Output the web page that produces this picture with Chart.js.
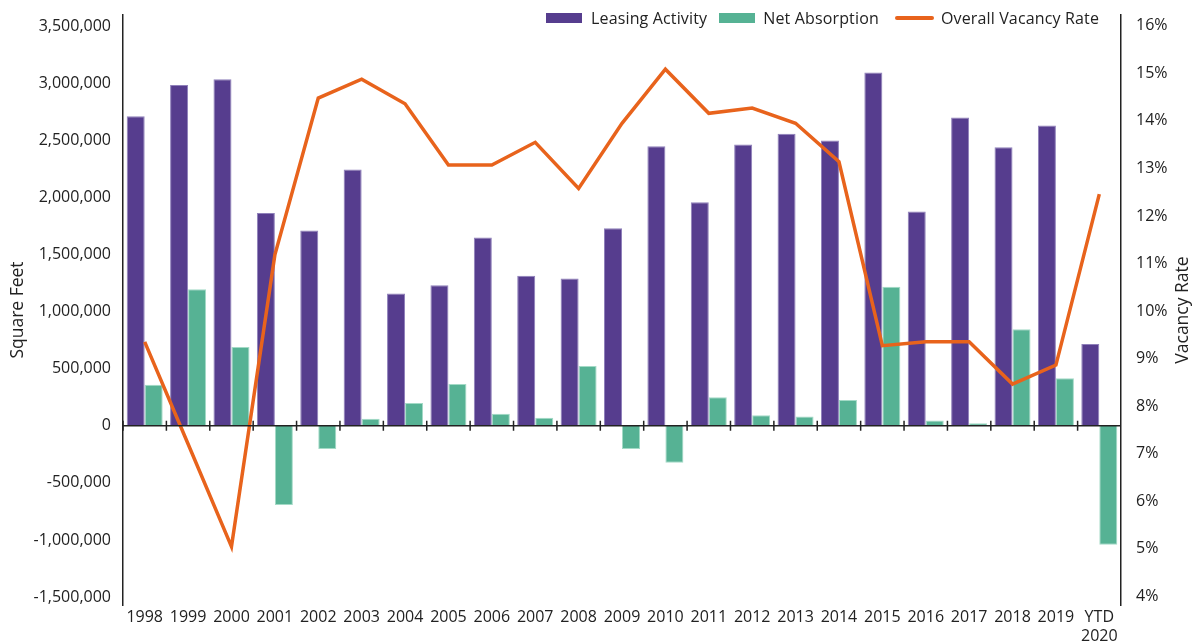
<!DOCTYPE html>
<html>
<head>
<meta charset="utf-8">
<title>Leasing Activity, Net Absorption and Vacancy</title>
<script src="https://cdn.jsdelivr.net/npm/chart.js@4.4.1/dist/chart.umd.min.js"></script>
<style>
  body { margin: 0; background: #fff; font-family: 'Open Sans', sans-serif; }
  #wrap { position: relative; width: 1192px; height: 643px; }
  #legend { position: absolute; top: 7px; left: 546px; display: flex; align-items: center;
            font-size: 16px; color: #222; white-space: nowrap; line-height: 22px; letter-spacing: 0.15px; }
  #legend .sw { width: 36px; height: 10px; margin-right: 9px; }
  #legend .ln { width: 39px; height: 4px; border-radius: 2px; margin-right: 7px; }
  #legend .txt { margin-right: 12px; }
</style>
</head>
<body>
<div id="wrap">
  <canvas id="chart" width="1192" height="643"></canvas>
  <div id="legend">
    <span class="sw" style="background:#563d8e"></span><span class="txt">Leasing Activity</span>
    <span class="sw" style="background:#56b294;margin-right:8px"></span><span class="txt" style="margin-right:16px">Net Absorption</span>
    <span class="ln" style="background:#e8631c"></span><span>Overall Vacancy Rate</span>
  </div>
</div>
<script>
// valores
const years = ['1998', '1999', '2000', '2001', '2002', '2003', '2004', '2005', '2006', '2007',
  '2008', '2009', '2010', '2011', '2012', '2013', '2014', '2015', '2016', '2017', '2018', '2019',
  ['YTD', '2020']];

const leasing = [2712000, 2986000, 3036000, 1864000, 1712000, 2246000, 1160000, 1231000, 1651000,
  1315000, 1292000, 1732000, 2450000, 1960000, 2465000, 2560000, 2500000, 3097000, 1878000,
  2701000, 2441000, 2631000, 717000];

const netAbsorption = [359000, 1196000, 691000, -694000, -204000, 61000, 201000, 367000, 105000,
  70000, 525000, -204000, -324000, 251000, 93000, 82000, 227000, 1219000, 47000, 23000, 846000,
  417000, -1041000];

const vacancy = [9.35, 7.2, 5.04, 11.18, 14.48, 14.88, 14.36, 13.07, 13.07, 13.55, 12.58, 13.95,
  15.09, 14.16, 14.27, 13.95, 13.14, 9.27, 9.35, 9.35, 8.46, 8.86, 12.46];

const sqftTicks = [-1500000, -1000000, -500000, 0, 500000, 1000000, 1500000, 2000000, 2500000,
  3000000, 3500000];
const rateTicks = [4, 5, 6, 7, 8, 9, 10, 11, 12, 13, 14, 15, 16];

const PURPLE = '#563d8e';
const GREEN = '#56b294';
const ORANGE = '#e8631c';
const TEXT = '#222';

Chart.defaults.font.family = "'Open Sans', sans-serif";

// sin margen extra por las etiquetas: el área queda fija
const fixWidth = (w) => (s) => { s.width = w; s.paddingTop = 0; s.paddingBottom = 0; };

// línea del cero con marcas entre categorías + título del eje derecho
const zeroAxis = {
  id: 'zeroAxis',
  afterDatasetsDraw(chart) {
    const { ctx, chartArea, scales: { x, y } } = chart;
    const y0 = y.getPixelForValue(0);
    const half = (x.getPixelForValue(1) - x.getPixelForValue(0)) / 2;
    ctx.save();
    ctx.strokeStyle = TEXT;
    ctx.lineWidth = 1.5;
    ctx.beginPath();
    ctx.moveTo(chartArea.left, y0);
    ctx.lineTo(chartArea.right, y0);
    for (let i = 0; i < years.length; i++) {
      const px = x.getPixelForValue(i) - half;
      ctx.moveTo(px, y0 - 5);
      ctx.lineTo(px, y0 + 5);
    }
    ctx.stroke();
    ctx.restore();
  },
  afterDraw(chart) {
    const { ctx, chartArea } = chart;
    ctx.save();
    ctx.translate(1183, (chartArea.top + chartArea.bottom) / 2);
    ctx.rotate(-Math.PI / 2);
    ctx.font = "17.5px 'Open Sans', sans-serif";
    ctx.fillStyle = TEXT;
    ctx.textAlign = 'center';
    ctx.textBaseline = 'middle';
    ctx.fillText('Vacancy Rate', 0, 0);
    ctx.restore();
  },
};

new Chart(document.getElementById('chart'), {
  type: 'bar',
  data: {
    labels: years,
    datasets: [
      {
        type: 'line', label: 'Overall Vacancy Rate', data: vacancy, yAxisID: 'y2',
        borderColor: ORANGE, borderWidth: 3.5, pointRadius: 0, tension: 0, order: 0,
      },
      {
        label: 'Leasing Activity', data: leasing, yAxisID: 'y', order: 1,
        backgroundColor: PURPLE, borderColor: '#8f80ba', borderWidth: 1,
      },
      {
        label: 'Net Absorption', data: netAbsorption, yAxisID: 'y', order: 2,
        backgroundColor: GREEN, borderColor: '#a3dac6', borderWidth: 1,
      },
    ],
  },
  options: {
    responsive: false,
    animation: false,
    layout: { padding: { top: 15, left: 0, right: 0, bottom: 0 } },
    datasets: { bar: { categoryPercentage: 0.83, barPercentage: 1 } },
    plugins: { legend: { display: false }, tooltip: { enabled: false } },
    scales: {
      x: {
        grid: { display: false, drawTicks: false },
        border: { display: false },
        ticks: { font: { size: 16 }, color: TEXT, padding: 3, maxRotation: 0, autoSkip: false },
        afterFit: (s) => { s.height = 38; },
      },
      y: {
        position: 'left',
        min: -1570000,
        max: 3600000,
        afterBuildTicks: (s) => { s.ticks = sqftTicks.map((v) => ({ value: v })); },
        ticks: { callback: (v) => v.toLocaleString('en-US'), font: { size: 16 }, color: TEXT, padding: 12 },
        grid: { display: false, drawTicks: false },
        border: { display: true, color: TEXT, width: 1.5 },
        title: { display: true, text: 'Square Feet', font: { size: 17.5 }, color: TEXT, padding: { top: 8, bottom: 0 } },
        afterFit: fixWidth(123),
      },
      y2: {
        position: 'right',
        min: 3.81,
        max: 16.23,
        afterBuildTicks: (s) => { s.ticks = rateTicks.map((v) => ({ value: v })); },
        ticks: { callback: (v) => v + '%', font: { size: 16 }, color: TEXT, padding: 15 },
        grid: { display: false, drawTicks: false },
        border: { display: true, color: TEXT, width: 1.5 },
        afterFit: fixWidth(71),
      },
    },
  },
  plugins: [zeroAxis],
});
</script>
</body>
</html>
